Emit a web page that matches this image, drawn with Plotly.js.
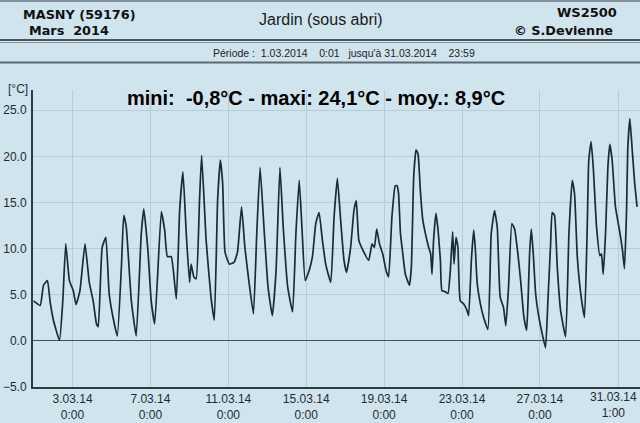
<!DOCTYPE html>
<html>
<head>
<meta charset="utf-8">
<script src="https://cdn.plot.ly/plotly-3.0.1.min.js"></script>
<style>
  html, body { margin: 0; padding: 0; background: #d0e4ee; }
  #chart { width: 640px; height: 423px; }
</style>
</head>
<body>
<div id="chart"></div>
<script>
// Time in days since 1.03.2014 0:00, temperature in °C
const dayOffsets = [
  0.00, 0.34, 0.51, 0.71, 0.85, 1.02, 1.33, 1.50, 1.65, 1.84,
  2.04, 2.18, 2.38, 2.64, 2.86, 3.06, 3.23, 3.32, 3.52, 3.71,
  3.88, 4.08, 4.30, 4.51, 4.63, 4.76, 5.02, 5.27, 5.53, 5.66,
  5.87, 6.04, 6.22, 6.56, 6.73, 6.87, 7.07, 7.33, 7.50, 7.67,
  7.84, 8.01, 8.09, 8.23, 8.35, 8.52, 8.63, 8.86, 9.11, 9.28,
  9.45, 9.59, 9.71, 9.83, 10.05, 10.30, 10.47, 10.68, 10.85, 11.07,
  11.29, 11.46, 11.63, 11.83, 12.04, 12.26, 12.45, 12.65, 12.82, 13.05,
  13.30, 13.47, 13.64, 13.78, 13.95, 14.15, 14.32, 14.49, 14.66, 14.83,
  15.00, 15.26, 15.43, 15.60, 15.77, 15.94, 16.07, 16.28, 16.45, 16.57,
  16.70, 16.91, 17.21, 17.38, 17.50, 17.62, 17.76, 17.93, 18.10, 18.23,
  18.40, 18.57, 18.66, 18.74, 18.84, 18.96, 19.09, 19.30, 19.40, 19.52,
  19.64, 19.74, 19.86, 19.98, 20.12, 20.29, 20.39, 20.46, 20.54, 20.66,
  20.77, 20.89, 20.97, 21.14, 21.28, 21.40, 21.52, 21.59, 21.69, 21.79,
  21.91, 22.08, 22.25, 22.34, 22.48, 22.60, 22.68, 22.78, 22.94, 23.11,
  23.33, 23.50, 23.67, 23.81, 23.96, 24.13, 24.25, 24.39, 24.56, 24.70,
  24.87, 25.01, 25.18, 25.32, 25.39, 25.47, 25.56, 25.66, 25.78, 25.95,
  26.12, 26.29, 26.41, 26.55, 26.63, 26.75, 26.89, 27.06, 27.32, 27.49,
  27.66, 27.78, 27.92, 28.12, 28.29, 28.43, 28.51, 28.63, 28.74, 28.91,
  29.08, 29.16, 29.25, 29.37, 29.49, 29.59, 29.71, 29.88, 30.10, 30.24,
  30.34, 30.45, 30.51, 30.62, 30.74, 30.87, 30.99
];
const temps = [
  4.3, 3.8, 6.0, 6.5, 4.2, 2.2, 0.0, 4.3, 10.5, 6.5,
  5.4, 3.9, 5.4, 10.5, 6.3, 4.3, 1.8, 1.5, 10.1, 11.2,
  5.1, 2.5, 0.5, 8.0, 13.6, 12.3, 4.3, 0.5, 11.6, 14.3,
  9.8, 4.3, 1.8, 14.0, 12.0, 9.1, 9.1, 4.5, 14.1, 18.3,
  11.6, 6.3, 8.3, 6.9, 6.7, 15.2, 20.1, 10.9, 4.7, 2.2,
  15.2, 19.6, 17.0, 9.6, 8.3, 8.5, 9.6, 14.5, 10.1, 6.2,
  2.9, 11.6, 18.8, 12.3, 5.8, 2.7, 7.5, 18.8, 12.3, 5.8,
  3.1, 11.6, 17.4, 12.3, 6.5, 7.6, 9.1, 12.7, 13.9, 10.9,
  8.3, 6.3, 13.4, 17.6, 13.0, 8.7, 7.4, 10.1, 14.1, 15.2,
  10.9, 9.8, 8.7, 10.5, 10.1, 12.1, 10.5, 9.4, 7.6, 6.9,
  13.4, 16.8, 16.8, 16.0, 11.6, 9.4, 7.2, 6.0, 8.0, 17.8,
  20.7, 20.3, 16.3, 13.2, 11.6, 10.1, 9.4, 7.2, 10.9, 13.8,
  12.0, 8.7, 5.4, 5.3, 5.1, 7.6, 11.8, 8.3, 11.2, 10.1,
  4.3, 4.0, 3.3, 2.7, 8.7, 12.0, 10.1, 6.2, 4.0, 2.5,
  1.2, 11.6, 14.1, 12.3, 4.7, 3.6, 1.6, 5.8, 12.7, 12.1,
  9.4, 6.5, 2.5, 1.1, 4.3, 9.4, 12.1, 9.4, 5.1, 2.5,
  0.7, -0.8, 4.3, 10.5, 13.9, 13.6, 8.0, 3.3, 0.4, 11.6,
  17.4, 15.9, 9.1, 4.7, 2.5, 12.3, 19.6, 21.6, 18.8, 12.3,
  9.2, 9.4, 7.2, 11.6, 18.8, 21.3, 19.6, 14.5, 11.8, 9.8,
  7.8, 14.1, 20.7, 24.1, 20.7, 17.0, 14.5
];

const xTickVals = [2, 6, 10, 14, 18, 22, 26, 30.04];
const xTickText = ['3.03.14<br>0:00', '7.03.14<br>0:00', '11.03.14<br>0:00', '15.03.14<br>0:00',
                   '19.03.14<br>0:00', '23.03.14<br>0:00', '27.03.14<br>0:00', '31.03.14<br>1:00'];
const yTickVals = [-5, 0, 5, 10, 15, 20, 25];

const headerLeft1 = 'MASNY (59176)';
const headerLeft2 = 'Mars  2014';
const headerCenter = 'Jardin (sous abri)';
const headerRight1 = 'WS2500';
const headerRight2 = '© S.Devienne';
const periodText = 'Période :\u00a0\u00a01.03.2014\u00a0\u00a0\u00a0\u00a00:01\u00a0\u00a0\u00a0jusqu\'à\u00a031.03.2014\u00a0\u00a0\u00a0\u00a023:59';
const statsText = 'mini:\u00a0\u00a0-0,8°C - maxi: 24,1°C - moy.: 8,9°C';
const unitText = '[°C]';

// geometry helpers (plot area: x 33..640, y 90..387)
const L = 33, T = 90, W = 607, H = 297;
const px = v => (v - L) / W;
const py = v => (T + H - v) / H;

const trace = {
  x: dayOffsets, y: temps, type: 'scatter', mode: 'lines',
  line: { color: '#1c2a33', width: 1.7, shape: 'spline', smoothing: 0.4 }, hoverinfo: 'skip'
};

const tickFont = { family: 'Liberation Sans, Arial, sans-serif', size: 12, color: '#1f2a33' };
// the last date label sits against the right edge: drawn as a right-anchored annotation
const lastIdx = xTickText.length - 1;
const axisTickText = xTickText.map((t, i) => (i === lastIdx ? '' : t));

const ann = (text, x, y, size, bold, xanchor, family, color) => ({
  text: bold ? '<b>' + text + '</b>' : text,
  x: px(x), y: py(y), xref: 'paper', yref: 'paper', showarrow: false,
  xanchor: xanchor, yanchor: 'middle',
  font: { family: family, size: size, color: color || '#111' }
});

const layout = {
  width: 640, height: 423,
  margin: { l: L, r: 0, t: T, b: 423 - T - H, pad: 0 },
  paper_bgcolor: '#d0e4ee', plot_bgcolor: '#d0e4ee',
  showlegend: false,
  xaxis: {
    range: [-0.03, 31.14], tickvals: xTickVals, ticktext: axisTickText,
    showgrid: true, gridcolor: '#b6ccd8', gridwidth: 1,
    zeroline: false, showline: true, linecolor: '#2b3a45', linewidth: 2,
    ticks: '', tickfont: tickFont, fixedrange: true
  },
  yaxis: {
    range: [-5.05, 27.2], tickvals: yTickVals, tickformat: '.1f',
    showgrid: true, gridcolor: '#b6ccd8', gridwidth: 1,
    zeroline: true, zerolinecolor: '#3d5262', zerolinewidth: 1.5,
    showline: true, linecolor: '#2b3a45', linewidth: 2,
    ticks: '', ticklabelstandoff: 2, ticklabeloverflow: 'allow',
    tickfont: tickFont, fixedrange: true
  },
  shapes: [
    { type: 'line', xref: 'paper', yref: 'paper', x0: px(0), x1: px(640), y0: py(1), y1: py(1), line: { color: '#6a7680', width: 1.5 } },
    { type: 'line', xref: 'paper', yref: 'paper', x0: px(0), x1: px(640), y0: py(40), y1: py(40), line: { color: '#48545e', width: 2 } },
    { type: 'line', xref: 'paper', yref: 'paper', x0: px(0), x1: px(640), y0: py(42.5), y1: py(42.5), line: { color: '#8a969f', width: 1 } },
    { type: 'line', xref: 'paper', yref: 'paper', x0: px(0), x1: px(640), y0: py(62.5), y1: py(62.5), line: { color: '#5d6974', width: 2 } }
  ],
  annotations: [
    ann(headerLeft1, 21, 14, 12.8, true, 'left', 'DejaVu Sans, Verdana, sans-serif'),
    ann(headerLeft2, 27, 31, 12.8, true, 'left', 'DejaVu Sans, Verdana, sans-serif'),
    ann(headerCenter, 321, 19, 16, false, 'center', 'Liberation Sans, Arial, sans-serif', '#1a1a1a'),
    ann(headerRight1, 619, 13, 13, true, 'right', 'DejaVu Sans, Verdana, sans-serif'),
    ann(headerRight2, 615, 31, 12.8, true, 'right', 'DejaVu Sans, Verdana, sans-serif'),
    ann(periodText, 211, 53, 10.5, false, 'left', 'Liberation Sans, Arial, sans-serif', '#222'),
    ann(statsText, 316, 98, 20, true, 'center', 'Liberation Sans, Arial, sans-serif', '#000'),
    ann(unitText, 6, 89, 12, false, 'left', 'Liberation Sans, Arial, sans-serif', '#1f2a33'),
    {
      text: xTickText[lastIdx], x: xTickVals[lastIdx], xref: 'x', y: py(405), yref: 'paper',
      showarrow: false, xanchor: 'center', yanchor: 'middle', xshift: -5,
      font: tickFont
    }
  ]
};

Plotly.newPlot('chart', [trace], layout, { displayModeBar: false, staticPlot: true });
</script>
</body>
</html>
